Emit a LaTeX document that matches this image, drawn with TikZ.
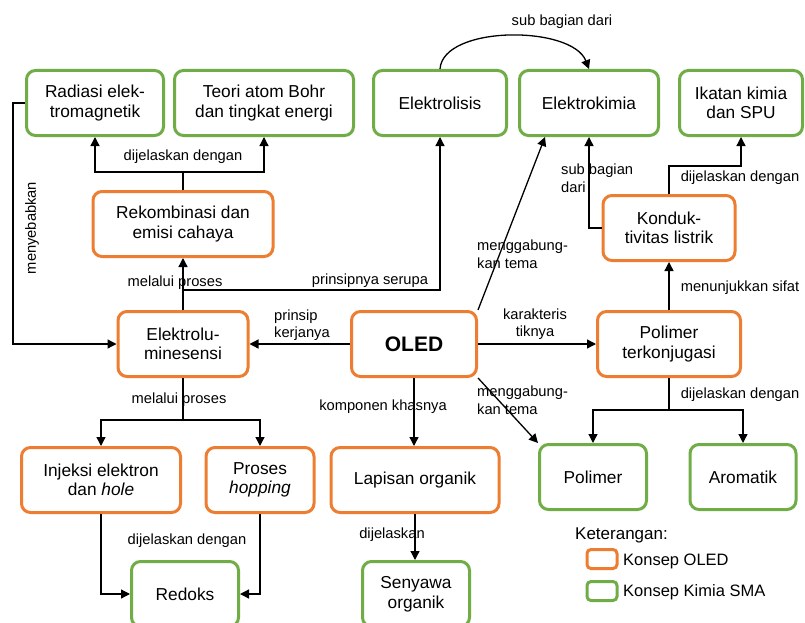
\documentclass[tikz,border=0pt]{standalone}
\usepackage{fontspec}
\setmainfont{Liberation Sans}
\usetikzlibrary{arrows.meta,calc}
\definecolor{oleorange}{RGB}{237,125,49}
\definecolor{kimgreen}{RGB}{112,173,71}
\begin{document}
\begin{tikzpicture}[x=1pt,y=-1pt,
  box/.style={draw, rounded corners=9pt, line width=3pt, align=center, minimum height=65pt, inner sep=2pt, font=\fontsize{17.3}{19.5}\selectfont},
  ob/.style={box, draw=oleorange},
  gb/.style={box, draw=kimgreen},
  lbl/.style={font=\fontsize{14.7}{17.5}\selectfont, inner sep=0pt, align=left},
  arr/.style={-{Triangle[length=9pt,width=9pt]}, line width=1.3pt},
  ln/.style={line width=1.3pt},
  leg/.style={draw, rounded corners=4pt, line width=3pt, minimum width=30pt, minimum height=19pt, inner sep=0pt}]
\useasboundingbox (0,0) rectangle (805,623);
\clip (0,0) rectangle (805,623);
\fill[white] (0,0) rectangle (805,623);
% nodes
\node[gb, minimum width=137pt] (rad) at (95,103) {Radiasi elek-\\tromagnetik};
\node[gb, minimum width=179pt] (teo) at (264,103) {Teori atom Bohr\\dan tingkat energi};
\node[gb, minimum width=133pt] (eli) at (440,103) {Elektrolisis};
\node[gb, minimum width=139pt] (ek) at (589,103) {Elektrokimia};
\node[gb, minimum width=123pt] (ika) at (741,103) {Ikatan kimia\\dan SPU};
\node[ob, minimum width=180pt] (rek) at (183,224) {Rekombinasi dan\\emisi cahaya};
\node[ob, minimum width=132pt] (kon) at (669,228) {Konduk-\\tivitas listrik};
\node[ob, minimum width=130pt] (el) at (183,344) {Elektrolu-\\minesensi};
\node[ob, minimum width=125pt, font=\fontsize{21}{24}\selectfont\bfseries] (oled) at (414,344) {OLED};
\node[ob, minimum width=143pt] (pt) at (669,344) {Polimer\\terkonjugasi};
\node[ob, minimum width=159pt] (inj) at (101,480) {Injeksi elektron\\dan \textit{hole}};
\node[ob, minimum width=108pt] (hop) at (260,480) {Proses\\\textit{hopping}};
\node[ob, minimum width=168pt] (lap) at (415,480) {Lapisan organik};
\node[gb, minimum width=107pt] (pol) at (593,477) {Polimer};
\node[gb, minimum width=106pt] (aro) at (743,477) {Aromatik};
\node[gb, minimum width=107pt] (red) at (185,594) {Redoks};
\node[gb, minimum width=107pt] (sen) at (416,594) {Senyawa\\organik};
% legend
\node[font=\fontsize{17}{19.5}\selectfont, anchor=west, inner sep=0pt] (ket) at (575,535) {Keterangan:};
\node[leg, draw=oleorange] (lo) at (602,559) {};
\node[font=\fontsize{16.5}{19}\selectfont, anchor=west, inner sep=0pt] (lot) at (623,561) {Konsep OLED};
\node[leg, draw=kimgreen] (lg) at (602,591) {};
\node[font=\fontsize{16.5}{19}\selectfont, anchor=west, inner sep=0pt] (lgt) at (623,592) {Konsep Kimia SMA};
% connectors
\draw[arr] (eli.north) .. controls (443,25) and (572,25) .. (ek.north);
\node[lbl] (l1) at (562,22) {sub bagian dari};
\draw[ln] (rek.north) -- ++(0,-18) coordinate (r1);
\draw[arr] (r1) -| (rad.south);
\draw[arr] (r1) -| (teo.south);
\node[lbl] (l2) at (183,157) {dijelaskan dengan};
\draw[arr] (rad.west) -- ++(-12,0) |- (el.west);
\node[lbl, rotate=90] (l3) at (32,228) {menyebabkan};
\draw[arr] (el.north) -- (rek.south);
\node[lbl] (l4) at (175,283) {melalui proses};
\coordinate (j1) at (183,290);
\draw[arr] (j1) -| (eli.south);
\node[lbl] (l5) at (370,281) {prinsipnya serupa};
\draw[arr] (oled.north east) -- ($(ek.south west)+(27,0)$);
\node[lbl, anchor=west] (l6) at (477,254) {menggabung-\\kan tema};
\draw[arr] (kon.west) -| (ek.south);
\node[lbl, anchor=west] (l7) at (561,178) {sub bagian\\dari};
\draw[arr] (kon.north) -- ++(0,-28) -| (ika.south);
\node[lbl] (l8) at (740,178) {dijelaskan dengan};
\draw[arr] (pt.north) -- (kon.south);
\node[lbl] (l9) at (740,288) {menunjukkan sifat};
\draw[arr] (oled.west) -- (el.east);
\node[lbl, anchor=west] (l10) at (274,325) {prinsip\\kerjanya};
\draw[arr] (oled.east) -- (pt.west);
\node[lbl, align=center] (l11) at (535,324) {karakteris\\tiknya};
\draw[arr] (oled.south east) -- (pol.north west);
\node[lbl, anchor=west] (l12) at (477,400) {menggabung-\\kan tema};
\draw[ln] (pt.south) -- ++(0,32) coordinate (p1);
\draw[arr] (p1) -| (pol.north);
\draw[arr] (p1) -| (aro.north);
\node[lbl] (l13) at (740,395) {dijelaskan dengan};
\draw[arr] (oled.south) -- (oled.south |- lap.north);
\node[lbl] (l14) at (383,407) {komponen khasnya};
\draw[arr] (lap.south) -- (lap.south |- sen.north);
\node[lbl] (l15) at (392,535) {dijelaskan};
\draw[ln] (el.south) -- ++(0,42) coordinate (e1);
\draw[arr] (e1) -| (inj.north);
\draw[arr] (e1) -| (hop.north);
\node[lbl] (l16) at (179,400) {melalui proses};
\draw[arr] (inj.south) |- (red.west);
\draw[arr] (hop.south) |- (red.east);
\node[lbl] (l17) at (187,541) {dijelaskan dengan};
\end{tikzpicture}
\end{document}
